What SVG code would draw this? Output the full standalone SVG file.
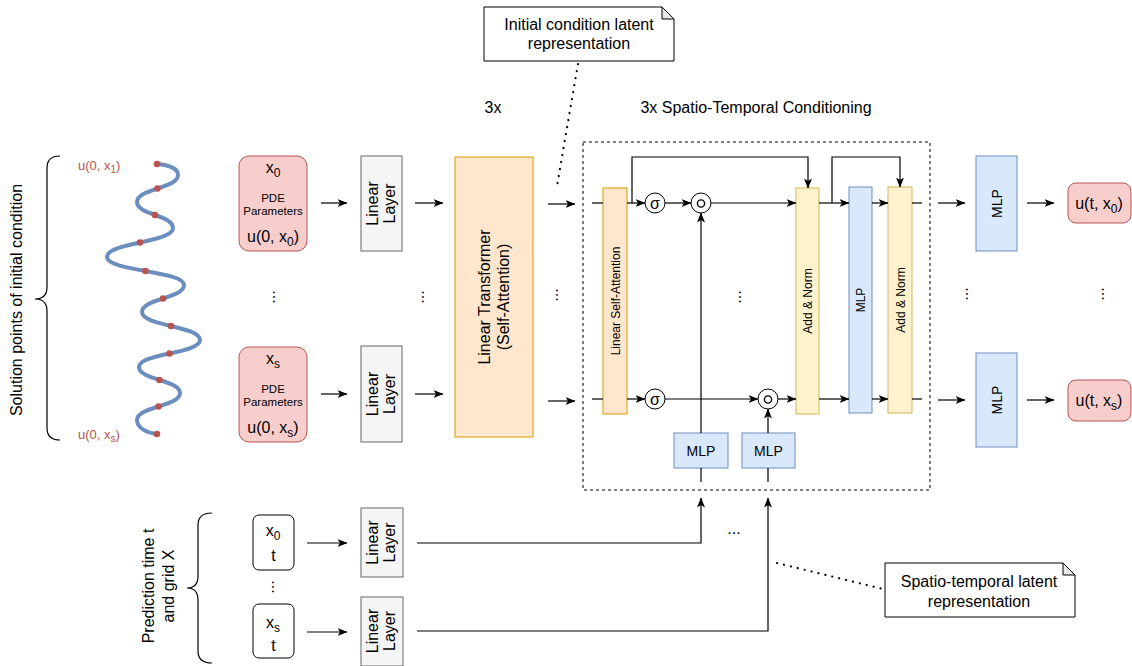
<svg xmlns="http://www.w3.org/2000/svg" width="1132" height="666" viewBox="0 0 1132 666">
<style>
text{font-family:"Liberation Sans",Arial,sans-serif;fill:#000}
.t16{font-size:16px}
.t14{font-size:14px}
.t12{font-size:12px}
.t115{font-size:11.5px}
.red{fill:#f8cecc;stroke:#b85450;stroke-width:1}
.gray{fill:#f5f5f5;stroke:#666666;stroke-width:1}
.org{fill:#ffe6cc;stroke:#d79b00;stroke-width:1}
.yel{fill:#fff2cc;stroke:#d6b656;stroke-width:1}
.blu{fill:#dae8fc;stroke:#6c8ebf;stroke-width:1}
.wht{fill:#ffffff;stroke:#000;stroke-width:1}
.ln{fill:none;stroke:#000;stroke-width:1.2}
.ar{fill:none;stroke:#000;stroke-width:1.2;marker-end:url(#arr)}
.dot{fill:none;stroke:#000;stroke-width:2.2;stroke-linecap:round;stroke-dasharray:0.1 7}
.lbl{fill:#b85450;font-size:13px}
.ell{font-size:16px}
</style>
<defs>
<marker id="arr" viewBox="0 0 10 8" refX="9.5" refY="4" markerWidth="10" markerHeight="8" markerUnits="userSpaceOnUse" orient="auto">
<path d="M0,0 L10,4 L0,8 L2.5,4 Z" fill="#000"/>
</marker>
</defs>
<rect width="1132" height="666" fill="#fff"/>

<!-- left brace and label -->
<g id="ic-brace">
<path class="ln" d="M60,156 Q47,156 47,168 L47,287 Q47,299 35,299 Q47,299 47,311 L47,428 Q47,440 60,440"/>
<text class="t16" text-anchor="middle" transform="translate(22,300) rotate(-90)">Solution points of initial condition</text>
</g>

<g id="wave">
<path fill="none" stroke="#6c8ebf" stroke-width="4" stroke-linecap="round" d="M157,164 C170,165 178,169 178,175 C178,188.5 137,188.5 137,202 C137,215 173,215 173,228 C173,242.5 107,242.5 107,257 C107,271 184,271 184,285 C184,298.5 142,298.5 142,312 C142,326 200,326 200,340 C200,353.5 139,353.5 139,367 C139,380 180,380 180,393 C180,406.5 137,406.5 137,420 C137,428 147,433 157,434"/>
<g fill="#b85450">
<circle cx="157" cy="164" r="3.3"/>
<circle cx="157.5" cy="188.5" r="3.3"/>
<circle cx="155" cy="215" r="3.3"/>
<circle cx="140" cy="242.5" r="3.3"/>
<circle cx="145.5" cy="271" r="3.3"/>
<circle cx="163" cy="298.5" r="3.3"/>
<circle cx="171" cy="326" r="3.3"/>
<circle cx="169.5" cy="353.5" r="3.3"/>
<circle cx="159.5" cy="380" r="3.3"/>
<circle cx="158.5" cy="406.5" r="3.3"/>
<circle cx="157" cy="434" r="3.3"/>
</g>
<text class="lbl" x="78" y="170">u(0, x<tspan font-size="10" dy="3">1</tspan><tspan dy="-3">)</tspan></text>
<text class="lbl" x="78" y="439">u(0, x<tspan font-size="10" dy="3">s</tspan><tspan dy="-3">)</tspan></text>
</g>

<!-- input boxes -->
<g id="in0">
<rect class="red" x="239" y="156" width="68" height="95" rx="10"/>
<text class="t16" text-anchor="middle" x="273" y="173">x<tspan font-size="12" dy="4">0</tspan></text>
<text class="t115" text-anchor="middle" x="273" y="201.5">PDE</text>
<text class="t115" text-anchor="middle" x="273" y="215">Parameters</text>
<text class="t16" text-anchor="middle" x="273" y="242">u(0, x<tspan font-size="12" dy="4">0</tspan><tspan dy="-4">)</tspan></text>
</g>
<g id="ins">
<rect class="red" x="239" y="347" width="68" height="95" rx="10"/>
<text class="t16" text-anchor="middle" x="273" y="364">x<tspan font-size="12" dy="4">s</tspan></text>
<text class="t115" text-anchor="middle" x="273" y="392.5">PDE</text>
<text class="t115" text-anchor="middle" x="273" y="406">Parameters</text>
<text class="t16" text-anchor="middle" x="273" y="433">u(0, x<tspan font-size="12" dy="4">s</tspan><tspan dy="-4">)</tspan></text>
</g>

<g id="lin0">
<rect class="gray" x="361" y="156" width="41" height="95"/>
<text class="t16" text-anchor="middle" transform="translate(381.5,203.5) rotate(-90)"><tspan x="0" y="-4">Linear</tspan><tspan x="0" y="13">Layer</tspan></text>
</g>
<g id="lins">
<rect class="gray" x="361" y="346" width="41" height="96"/>
<text class="t16" text-anchor="middle" transform="translate(381.5,394) rotate(-90)"><tspan x="0" y="-4">Linear</tspan><tspan x="0" y="13">Layer</tspan></text>
</g>

<g id="transformer">
<rect class="org" x="455" y="157" width="78" height="280"/>
<text class="t16" text-anchor="middle" transform="translate(494,297) rotate(-90)"><tspan x="0" y="-4">Linear Transformer</tspan><tspan x="0" y="15">(Self-Attention)</tspan></text>
</g>
<text class="t16" text-anchor="middle" x="493" y="113">3x</text>
<text class="t16" text-anchor="middle" x="756" y="113">3x Spatio-Temporal Conditioning</text>

<g id="note-ic">
<path class="wht" d="M484,7 L662,7 L674,19 L674,61 L484,61 Z"/>
<path d="M662,7 L662,19 L674,19 Z" fill="#e6e6e6" stroke="#000" stroke-width="1"/>
<text class="t16" text-anchor="middle" x="579" y="30">Initial condition latent</text>
<text class="t16" text-anchor="middle" x="579" y="49">representation</text>
</g>

<!-- conditioning block -->
<g id="cond-block">
<rect x="583" y="142" width="347" height="348" fill="none" stroke="#000" stroke-width="1" stroke-dasharray="3,3"/>
</g>
<g id="lsa">
<rect class="org" x="603" y="188" width="24" height="226"/>
<text class="t12" text-anchor="middle" transform="translate(615,301) rotate(-90)" y="4.5">Linear Self-Attention</text>
</g>
<g id="sig0"><circle class="wht" cx="655" cy="203" r="10"/><text class="t16" text-anchor="middle" x="655" y="208.5">σ</text></g>
<g id="had0"><circle class="wht" cx="701" cy="203" r="10"/><circle cx="701" cy="203.5" r="3.6" fill="none" stroke="#000" stroke-width="1.4"/></g>
<g id="sigs"><circle class="wht" cx="655" cy="399" r="10"/><text class="t16" text-anchor="middle" x="655" y="404.5">σ</text></g>
<g id="hads"><circle class="wht" cx="768" cy="399" r="10"/><circle cx="768" cy="399.5" r="3.6" fill="none" stroke="#000" stroke-width="1.4"/></g>
<g id="an1">
<rect class="yel" x="796" y="188" width="23" height="226"/>
<text class="t12" text-anchor="middle" transform="translate(807.5,301) rotate(-90)" y="4.5">Add &amp; Norm</text>
</g>
<g id="mlp-mid">
<rect class="blu" x="849" y="187" width="23" height="226"/>
<text class="t12" text-anchor="middle" transform="translate(860.5,300) rotate(-90)" y="4.5">MLP</text>
</g>
<g id="an2">
<rect class="yel" x="888" y="187" width="24" height="226"/>
<text class="t12" text-anchor="middle" transform="translate(900,300) rotate(-90)" y="4.5">Add &amp; Norm</text>
</g>
<g id="mlp1">
<rect class="blu" x="674" y="433" width="54" height="35"/>
<text class="t14" text-anchor="middle" x="701" y="455.5">MLP</text>
</g>
<g id="mlp2">
<rect class="blu" x="742" y="433" width="53" height="35"/>
<text class="t14" text-anchor="middle" x="768.5" y="455.5">MLP</text>
</g>

<!-- outputs -->
<g id="mlp-out0">
<rect class="blu" x="976" y="156" width="41" height="95"/>
<text class="t14" text-anchor="middle" transform="translate(996.5,203.5) rotate(-90)" y="5">MLP</text>
</g>
<g id="mlp-outs">
<rect class="blu" x="976" y="353" width="41" height="94"/>
<text class="t14" text-anchor="middle" transform="translate(996.5,400) rotate(-90)" y="5">MLP</text>
</g>
<g id="out0">
<rect class="red" x="1068" y="183" width="63" height="40" rx="8"/>
<text class="t16" text-anchor="middle" x="1099" y="209">u(t, x<tspan font-size="12" dy="4">0</tspan><tspan dy="-4">)</tspan></text>
</g>
<g id="outs">
<rect class="red" x="1068" y="380" width="63" height="41" rx="8"/>
<text class="t16" text-anchor="middle" x="1099" y="406">u(t, x<tspan font-size="12" dy="4">s</tspan><tspan dy="-4">)</tspan></text>
</g>

<!-- bottom inputs -->
<g id="pt-brace">
<path class="ln" d="M212,513 Q198,513 198,525 L198,576 Q198,588 187,588 Q198,588 198,600 L198,651 Q198,663 212,663"/>
<text class="t16" text-anchor="middle" transform="translate(160,586) rotate(-90)"><tspan x="0" y="-6">Prediction time t</tspan><tspan x="0" y="14">and grid X</tspan></text>
</g>
<g id="grid0">
<rect class="wht" x="253" y="515" width="41" height="55" rx="6"/>
<text class="t16" text-anchor="middle" x="273" y="536">x<tspan font-size="12" dy="4">0</tspan></text>
<text class="t16" text-anchor="middle" x="273.5" y="561">t</text>
</g>
<g id="grids">
<rect class="wht" x="253" y="604" width="41" height="54" rx="6"/>
<text class="t16" text-anchor="middle" x="273" y="628">x<tspan font-size="12" dy="4">s</tspan></text>
<text class="t16" text-anchor="middle" x="273.5" y="651">t</text>
</g>
<g id="lin-b0">
<rect class="gray" x="361" y="508" width="42" height="69"/>
<text class="t16" text-anchor="middle" transform="translate(382,542.5) rotate(-90)"><tspan x="0" y="-4">Linear</tspan><tspan x="0" y="13">Layer</tspan></text>
</g>
<g id="lin-bs">
<rect class="gray" x="361" y="597" width="42" height="69"/>
<text class="t16" text-anchor="middle" transform="translate(382,631) rotate(-90)"><tspan x="0" y="-4">Linear</tspan><tspan x="0" y="13">Layer</tspan></text>
</g>

<g id="note-st">
<path class="wht" d="M885,563 L1063,563 L1075,575 L1075,617 L885,617 Z"/>
<path d="M1063,563 L1063,575 L1075,575 Z" fill="#e6e6e6" stroke="#000" stroke-width="1"/>
<text class="t16" text-anchor="middle" x="979" y="587">Spatio-temporal latent</text>
<text class="t16" text-anchor="middle" x="979" y="607">representation</text>
</g>

<!-- ellipses -->
<g id="ellipses" class="ell" text-anchor="middle">
<text transform="translate(273,297) rotate(90)">...</text>
<text transform="translate(422,297) rotate(90)">...</text>
<text transform="translate(556,295) rotate(90)">...</text>
<text transform="translate(739,297) rotate(90)">...</text>
<text transform="translate(966,294) rotate(90)">...</text>
<text transform="translate(1102,294) rotate(90)">...</text>
<text transform="translate(272,587) rotate(90)">...</text>
<text x="734" y="534">...</text>
</g>

<!-- connectors -->
<g id="connectors">
<line class="ar" x1="321" y1="203" x2="347" y2="203"/>
<line class="ar" x1="321" y1="394" x2="347" y2="394"/>
<line class="ar" x1="415" y1="203" x2="443" y2="203"/>
<line class="ar" x1="415" y1="394" x2="443" y2="394"/>
<line class="ar" x1="548" y1="204" x2="575" y2="204"/>
<line class="ar" x1="548" y1="401" x2="575" y2="401"/>
<line class="ln" x1="592" y1="203" x2="603" y2="203"/>
<line class="ln" x1="592" y1="399" x2="603" y2="399"/>
<line class="ar" x1="627" y1="203" x2="645" y2="203"/>
<line class="ar" x1="627" y1="399" x2="645" y2="399"/>
<line class="ar" x1="665" y1="203" x2="691" y2="203"/>
<line class="ar" x1="711" y1="203" x2="796" y2="203"/>
<line class="ar" x1="665" y1="399" x2="758" y2="399"/>
<line class="ar" x1="778" y1="399" x2="796" y2="399"/>
<line class="ar" x1="819" y1="203" x2="849" y2="203"/>
<line class="ar" x1="819" y1="399" x2="849" y2="399"/>
<line class="ar" x1="872" y1="203" x2="888" y2="203"/>
<line class="ar" x1="872" y1="399" x2="888" y2="399"/>
<line class="ln" x1="912" y1="203" x2="922" y2="203"/>
<line class="ln" x1="912" y1="399" x2="922" y2="399"/>
<polyline class="ar" points="632,203 632,157 808,157 808,188"/>
<polyline class="ar" points="832,203 832,157 900,157 900,187"/>
<line class="ar" x1="701" y1="433" x2="701" y2="213"/>
<line class="ar" x1="768" y1="433" x2="768" y2="409"/>
<line class="ln" x1="701" y1="468" x2="701" y2="482"/>
<line class="ln" x1="768" y1="468" x2="768" y2="482"/>
<line class="ar" x1="938" y1="203" x2="965" y2="203"/>
<line class="ar" x1="938" y1="400" x2="965" y2="400"/>
<line class="ar" x1="1027" y1="203" x2="1054" y2="203"/>
<line class="ar" x1="1027" y1="400" x2="1054" y2="400"/>
<line class="ar" x1="307" y1="543" x2="347" y2="543"/>
<line class="ar" x1="307" y1="632" x2="347" y2="632"/>
<polyline class="ar" points="417,543 701,543 701,498"/>
<polyline class="ar" points="417,631 768,631 768,498"/>
<line class="dot" x1="578" y1="64" x2="557" y2="186"/>
<line class="dot" x1="777" y1="563" x2="883" y2="589"/>
</g>
</svg>
